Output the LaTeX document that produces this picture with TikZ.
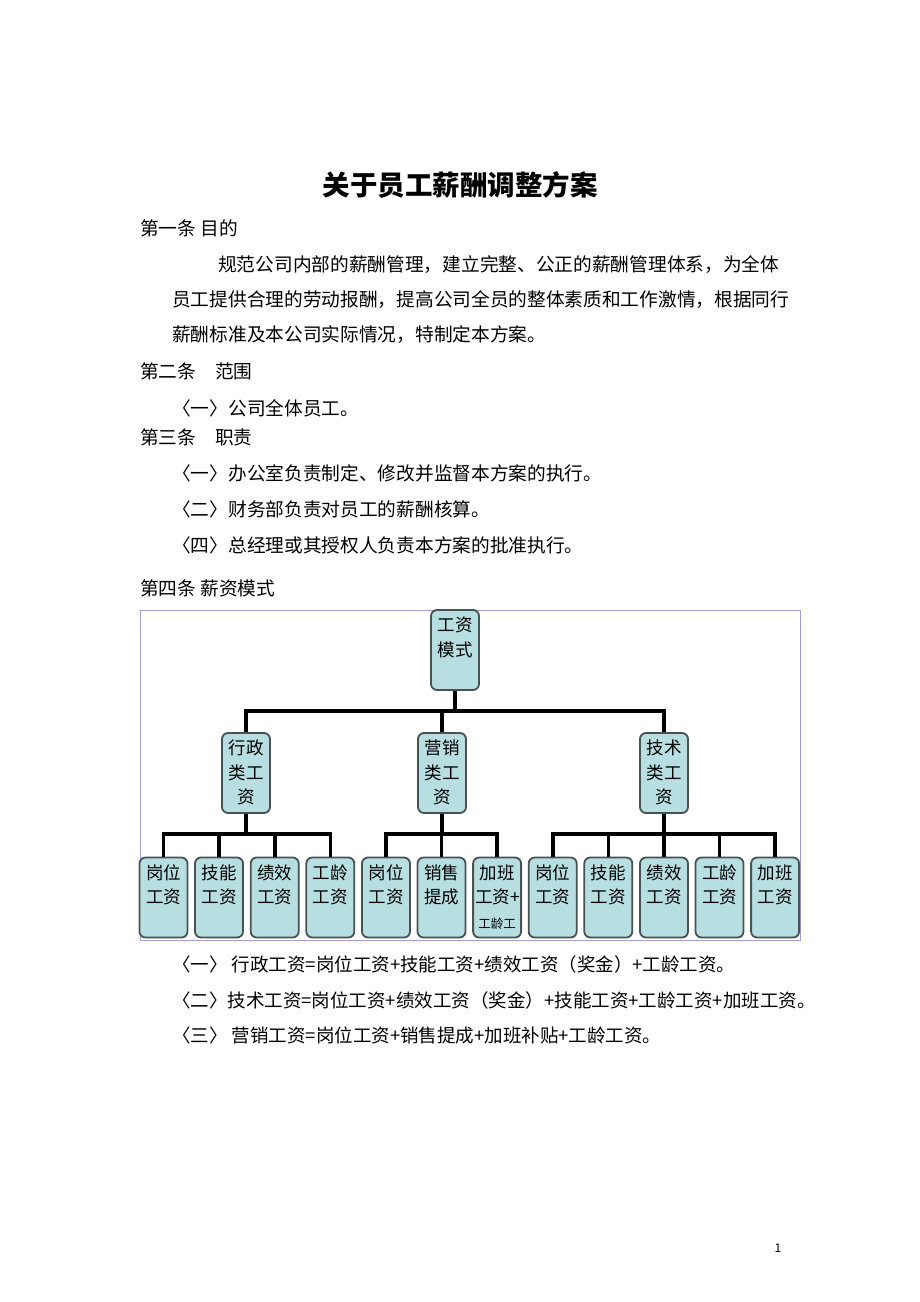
\documentclass[tikz,border=0pt]{standalone}
\usepackage{fontspec}
\setmainfont{Noto Sans CJK SC}
\usetikzlibrary{positioning}
\definecolor{boxfill}{RGB}{183,222,224}
\definecolor{boxline}{RGB}{72,82,82}
\definecolor{framecol}{RGB}{160,160,215}
\tikzset{
  bodytext/.style={anchor=west, inner sep=0pt, font=\fontsize{18.7}{22}\selectfont},
  paybox/.style={draw=boxline, fill=boxfill, line width=1.8pt, rounded corners=6pt,
    inner sep=2pt, font=\fontsize{17.5}{24.5}\selectfont},
  link/.style={line width=3.6pt, black}
}
\newcommand{\boxtxt}[1]{\parbox[c][76pt][t]{44pt}{\vspace*{5pt}\centering #1}}
\begin{document}
\begin{tikzpicture}[x=1pt,y=-1pt]
  \useasboundingbox (0,0) rectangle (920,1302);
  \fill[white] (0,0) rectangle (920,1302);
  % title and articles
  \node[inner sep=0pt, font=\fontsize{27.5}{30}\selectfont\bfseries] (title) at (460,185) {关于员工薪酬调整方案};
  \node[bodytext] (a1) at (140,228) {第一条 目的};
  \node[bodytext] (p1) at (218,265) {规范公司内部的薪酬管理，建立完整、公正的薪酬管理体系，为全体};
  \node[bodytext] (p2) at (172,300) {员工提供合理的劳动报酬，提高公司全员的整体素质和工作激情，根据同行};
  \node[bodytext] (p3) at (172,335) {薪酬标准及本公司实际情况，特制定本方案。};
  \node[bodytext] (a2) at (140,371) {第二条　范围};
  \node[bodytext] (s1) at (172,408) {〈一〉公司全体员工。};
  \node[bodytext] (a3) at (140,437) {第三条　职责};
  \node[bodytext] (r1) at (172,473) {〈一〉办公室负责制定、修改并监督本方案的执行。};
  \node[bodytext] (r2) at (172,509) {〈二〉财务部负责对员工的薪酬核算。};
  \node[bodytext] (r4) at (172,545) {〈四〉总经理或其授权人负责本方案的批准执行。};
  \node[bodytext] (a4) at (140,588) {第四条 薪资模式};
  % chart frame
  \draw[framecol, line width=0.8pt] (140,610) rectangle (800,940);
  % boxes
  \node[paybox] (root) at (455,650) {\boxtxt{工资\\模式}};
  \foreach \N/\X/\A in {admin/246/行政, sales/442/营销, tech/664/技术}
    {
    \node[paybox] (\N) at (\X,773) {\boxtxt{\A\\类工\\资}};
    }
  \foreach \N/\X/\A/\B in {ad1/163.5/岗位/工资, ad2/219/技能/工资, ad3/274.7/绩效/工资, ad4/330.3/工龄/工资,
                          sa1/386/岗位/工资, sa2/441.5/销售/提成,
                          te1/552.7/岗位/工资, te2/608.3/技能/工资, te3/664/绩效/工资, te4/719.5/工龄/工资, te5/775.1/加班/工资}
    {
    \node[paybox] (\N) at (\X,897.5) {\boxtxt{\A\\\B}};
    }
  \node[paybox] (sa3) at (497.1,897.5) {\boxtxt{加班\\工资+\\{\fontsize{12.5}{14}\selectfont 工龄工}}};
  % connectors
  \foreach \N in {admin, sales, tech}
    \draw[link] (root.south) -- ++(0,20) -| (\N.north);
  \foreach \N in {ad1, ad2, ad3, ad4}
    \draw[link] (admin.south) -- ++(0,20) -| (\N.north);
  \foreach \N in {sa1, sa2, sa3}
    \draw[link] (sales.south) -- ++(0,20) -| (\N.north);
  \foreach \N in {te1, te2, te3, te4, te5}
    \draw[link] (tech.south) -- ++(0,20) -| (\N.north);
  % formulas
  \node[bodytext, font=\fontsize{18.5}{22}\selectfont] (f1) at (172,964) {〈一〉 行政工资=岗位工资+技能工资+绩效工资（奖金）+工龄工资。};
  \node[bodytext, font=\fontsize{18.5}{22}\selectfont] (f2) at (172,1000) {〈二〉技术工资=岗位工资+绩效工资（奖金）+技能工资+工龄工资+加班工资。};
  \node[bodytext, font=\fontsize{18.5}{22}\selectfont] (f3) at (172,1035) {〈三〉 营销工资=岗位工资+销售提成+加班补贴+工龄工资。};
  \node[inner sep=0pt, font=\fontsize{12}{14}\selectfont] (pg) at (778,1248) {1};
\end{tikzpicture}
\end{document}
